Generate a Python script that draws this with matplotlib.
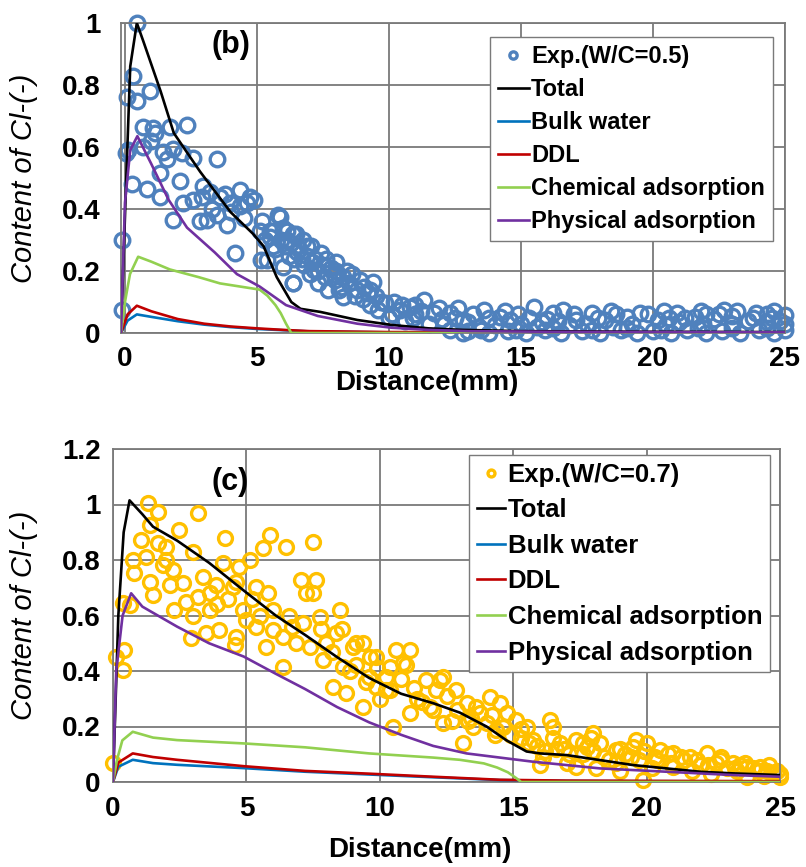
import numpy as np
import matplotlib
matplotlib.use("Agg")
import matplotlib.pyplot as plt

plt.rcParams['font.family'] = ['Liberation Sans', 'DejaVu Sans']

# ---------------- panel (b), W/C = 0.5 ----------------
b_exp_x = [-0.1, -0.13, 0.04, 0.06, 0.25, 0.32, 0.44, 0.44, 0.69, 0.95, 1.07, 1.14, 1.7, 2.34,
           1.45, 1.83, 2.15, 2.59, 3.47, 1.58, 1.33, 2.08, 0.82, 2.97, 3.22, 3.6, 4.36, 4.73,
           1.33, 2.21, 2.59, 3.98, 4.36, 4.61, 1.83, 2.84, 3.09, 3.85, 4.17, 0.1, 1.0, 0.7,
           3.3, 3.5, 4.0, 4.5, 4.9, 3.8, 2.9,
           5.11, 5.49, 5.87, 6.12, 6.37, 5.62, 6.12, 5.37, 6.0, 6.37, 5.81, 5.14, 6.08, 6.49,
           6.76, 7.03, 7.43, 7.16, 7.56, 7.97, 8.24, 8.5, 8.78, 9.05, 9.39, 6.35, 7.7, 8.24,
           9.6, 9.86, 6.6, 6.9, 7.2, 7.5, 7.8, 8.0, 6.4, 6.8, 7.3, 8.6, 8.9, 9.2, 9.5, 8.1,
           7.0, 5.6, 5.3, 6.2,
           5.2, 5.5, 5.7, 5.9, 6.0, 6.3, 6.5, 6.7, 6.9, 7.1, 7.3, 7.6, 7.9, 8.2, 8.4, 8.7, 9.0,
           9.3, 9.7, 8.0,
           10.4, 10.8, 11.34, 11.7, 12.3, 12.8, 13.4, 13.6, 14.2, 14.6, 12.8, 15.5, 16.2, 16.6,
           17.1, 17.7, 18.2, 19.0, 19.5, 20.2, 20.9, 21.6, 22.7, 23.9, 25.0,
           12.3, 13.0, 13.8, 14.5, 15.2, 15.9, 16.5, 17.3, 18.0, 18.8, 19.4, 20.0, 20.7, 21.3,
           22.0, 22.6, 23.3, 24.0, 24.6, 25.0,
           10.0, 10.6, 11.0, 11.5, 12.0, 13.0, 14.0, 15.0, 15.8, 16.8, 17.5, 18.5, 19.2, 20.5,
           21.0, 21.9, 22.3, 23.0, 23.6, 24.3, 24.8, 9.3, 10.2, 11.0, 12.6, 14.9, 16.0, 18.6,
           20.6, 22.0, 23.0, 24.3, 24.6,
           10.1, 10.5, 10.9, 11.2, 11.9, 12.1, 12.5, 13.2, 13.8, 14.4, 15.3, 15.6, 16.4, 17.0,
           17.9, 18.4, 19.8, 20.4, 21.2, 21.8, 22.5, 23.2, 23.8, 24.5, 25.0, 13.5, 14.8, 16.2,
           17.7, 19.0, 20.3, 21.7, 23.0, 24.3]
b_exp_y = [0.074, 0.30, 0.58, 0.76, 0.48, 0.83, 1.0, 0.75, 0.665, 0.78, 0.66, 0.645, 0.665, 0.67,
           0.585, 0.595, 0.58, 0.565, 0.56, 0.56, 0.515, 0.49, 0.465, 0.475, 0.455, 0.44, 0.46, 0.44,
           0.44, 0.42, 0.43, 0.42, 0.41, 0.42, 0.365, 0.36, 0.365, 0.35, 0.257, 0.59, 0.62, 0.60,
           0.40, 0.38, 0.39, 0.37, 0.43, 0.45, 0.44,
           0.33, 0.33, 0.375, 0.33, 0.32, 0.28, 0.30, 0.235, 0.214, 0.16, 0.38, 0.235, 0.28, 0.32,
           0.30, 0.28, 0.257, 0.203, 0.18, 0.17, 0.18, 0.16, 0.14, 0.15, 0.165, 0.16, 0.14, 0.117,
           0.074, 0.096, 0.27, 0.25, 0.24, 0.22, 0.21, 0.20, 0.24, 0.22, 0.16, 0.19, 0.17, 0.13, 0.12, 0.14,
           0.19, 0.33, 0.30, 0.25,
           0.36, 0.31, 0.27, 0.30, 0.34, 0.29, 0.26, 0.24, 0.28, 0.23, 0.20, 0.24, 0.19, 0.15, 0.20,
           0.12, 0.11, 0.14, 0.10, 0.23,
           0.074, 0.085, 0.106, 0.063, 0.063, 0.042, 0.02, 0.074, 0.053, 0.042, 0.0, 0.085, 0.063, 0.074,
           0.042, 0.063, 0.042, 0.053, 0.063, 0.042, 0.063, 0.053, 0.074, 0.063, 0.058,
           0.01, 0.005, 0.0, 0.005, 0.0, 0.01, 0.0, 0.005, 0.0, 0.01, 0.0, 0.005, 0.0, 0.01,
           0.0, 0.005, 0.0, 0.01, 0.0, 0.01,
           0.05, 0.04, 0.06, 0.03, 0.045, 0.035, 0.025, 0.03, 0.035, 0.025, 0.03, 0.02, 0.03, 0.025,
           0.035, 0.03, 0.045, 0.03, 0.04, 0.035, 0.04, 0.09, 0.10, 0.09, 0.08, 0.06, 0.045, 0.06,
           0.05, 0.06, 0.055, 0.06, 0.07,
           0.06, 0.09, 0.05, 0.07, 0.08, 0.03, 0.05, 0.06, 0.05, 0.07, 0.05, 0.02, 0.04, 0.06,
           0.05, 0.07, 0.06, 0.07, 0.05, 0.07, 0.06, 0.07, 0.05, 0.05, 0.03, 0.01, 0.01, 0.015,
           0.01, 0.015, 0.01, 0.015, 0.015, 0.015]

b_total_x = [-0.15, 0.05, 0.2, 0.45, 0.7, 1.35, 1.85, 2.85, 4.0, 4.85, 5.25, 5.75, 6.3, 6.65, 7.4,
             8.8, 10.1, 11.5, 12.8, 15, 20, 25]
b_total_y = [0, 0.5, 0.86, 1.0, 0.94, 0.78, 0.645, 0.52, 0.39, 0.32, 0.28, 0.18, 0.1, 0.078, 0.068,
             0.042, 0.026, 0.015, 0.01, 0.006, 0.004, 0.003]
b_bulk_x = [-0.15, 0.1, 0.45, 1.0, 2.0, 3.0, 4.0, 5.0, 6.0, 7.0, 10, 25]
b_bulk_y = [0, 0.04, 0.06, 0.052, 0.038, 0.027, 0.019, 0.013, 0.009, 0.005, 0.002, 0.001]
b_ddl_x = [-0.15, 0.1, 0.45, 1.0, 2.0, 3.0, 4.0, 5.0, 6.0, 7.0, 10, 25]
b_ddl_y = [0, 0.06, 0.088, 0.07, 0.045, 0.03, 0.021, 0.015, 0.01, 0.006, 0.003, 0.001]
b_chem_x = [-0.15, 0.0, 0.19, 0.5, 1.0, 1.7, 2.8, 3.6, 4.5, 5.1, 5.4, 5.7, 5.9, 6.1, 6.3, 25]
b_chem_y = [0, 0.1, 0.19, 0.246, 0.23, 0.205, 0.18, 0.16, 0.148, 0.14, 0.12, 0.09, 0.064, 0.03, 0.0, 0.0]
b_phys_x = [-0.15, 0.0, 0.2, 0.47, 1.0, 1.65, 2.35, 3.4, 4.24, 5.1, 6.1, 7.3, 8.8, 10.1, 11.5, 13,
            16, 20, 25]
b_phys_y = [0, 0.42, 0.59, 0.635, 0.545, 0.43, 0.34, 0.26, 0.19, 0.15, 0.09, 0.055, 0.03, 0.017,
            0.01, 0.006, 0.004, 0.003, 0.002]

# ---------------- panel (c), W/C = 0.7 ----------------
c_exp_x = [0.0, 0.12, 0.43, 0.36, 0.36, 0.62, 0.74, 0.8, 1.05, 1.24, 1.3, 1.37, 1.37, 1.49, 1.68,
           1.68, 1.86, 1.99, 2.12, 2.24, 2.49, 2.62, 2.74, 2.93, 2.99, 3.18, 3.18, 3.37, 3.49,
           3.62, 3.62, 3.87, 3.99, 4.12, 4.18, 4.49, 4.56, 4.62, 4.74, 4.87, 5.0, 5.12, 5.37,
           5.37, 5.62, 5.74, 5.8, 5.87, 5.99, 6.37, 6.37, 6.5, 6.87, 7.06, 7.12, 7.25, 7.37,
           7.49, 7.5, 7.62, 7.74, 7.87, 8.24, 8.37, 8.49, 8.62, 8.75, 8.99, 9.12, 9.37, 9.37,
           9.62, 9.87, 9.87, 10.25, 10.25, 10.37, 10.5, 10.62, 10.87, 11.12, 11.12, 11.75,
           12.12, 12.25, 12.37, 12.37, 12.87, 13.12, 13.25, 13.5, 13.75, 14.0, 14.12, 14.37,
           14.5, 14.75, 15.12, 15.5, 15.75, 16.37, 16.5, 16.75, 17.37, 17.37, 17.75, 18.0,
           18.25, 18.87, 18.87, 19.5, 19.87, 20.0, 20.5, 21.0, 21.0, 21.63, 22.25, 22.75,
           23.25, 23.75, 23.75, 24.25, 24.75, 25.0,
           2.0, 2.3, 3.0, 4.3, 5.2, 6.0, 6.7, 8.0, 8.9, 9.6, 10.0, 11.4, 11.9, 12.7, 13.4, 14.3,
           15.3, 15.9, 16.2, 16.9, 17.6, 18.4, 19.2, 19.7, 20.3, 20.9, 21.4, 22.0, 22.6, 23.0,
           23.5, 24.0, 24.5, 24.9, 16.0, 17.0, 18.1, 19.0, 20.2, 21.7, 22.4, 23.4, 24.4,
           8.2, 8.6, 9.1, 9.5, 9.9, 10.4, 10.8, 11.3, 11.6, 12.0, 12.5, 12.9, 13.3, 13.6, 14.2,
           14.6, 14.9, 15.3, 15.6, 11.0, 7.8, 6.6, 5.5, 4.6, 3.9,
           16.1, 16.6, 17.1, 17.6, 18.0, 18.6, 19.0, 19.4, 19.9, 20.4, 20.8, 21.3, 21.9, 22.3,
           22.8, 23.3, 23.7, 24.2, 24.6, 25.0, 16.5, 17.9, 19.6]
c_exp_y = [0.07, 0.452, 0.476, 0.404, 0.644, 0.638, 0.80, 0.752, 0.872, 0.812, 1.004, 0.926, 0.722,
           0.674, 0.974, 0.86, 0.782, 0.848, 0.71, 0.764, 0.908, 0.716, 0.65, 0.518, 0.83, 0.968,
           0.668, 0.74, 0.536, 0.68, 0.62, 0.71, 0.548, 0.788, 0.878, 0.704, 0.494, 0.524, 0.776,
           0.62, 0.584, 0.80, 0.704, 0.56, 0.842, 0.488, 0.68, 0.89, 0.548, 0.524, 0.415, 0.848,
           0.50, 0.728, 0.572, 0.68, 0.488, 0.866, 0.68, 0.728, 0.596, 0.44, 0.343, 0.536, 0.62,
           0.415, 0.32, 0.488, 0.50, 0.50, 0.271, 0.452, 0.452, 0.343, 0.38, 0.332, 0.415, 0.20,
           0.476, 0.428, 0.476, 0.248, 0.368, 0.332, 0.368, 0.38, 0.212, 0.332, 0.139, 0.284,
           0.20, 0.248, 0.212, 0.307, 0.187, 0.284, 0.248, 0.223, 0.20, 0.151, 0.223, 0.20, 0.139,
           0.151, 0.055, 0.127, 0.175, 0.139, 0.115, 0.067, 0.127, 0.007, 0.139, 0.115, 0.103,
           0.055, 0.091, 0.103, 0.079, 0.067, 0.055, 0.019, 0.055, 0.031, 0.019,
           0.80, 0.62, 0.60, 0.66, 0.66, 0.62, 0.56, 0.50, 0.40, 0.38, 0.30, 0.30, 0.27, 0.22,
           0.23, 0.17, 0.16, 0.13, 0.11, 0.12, 0.10, 0.09, 0.10, 0.08, 0.09, 0.07, 0.08, 0.06,
           0.07, 0.05, 0.06, 0.05, 0.04, 0.04, 0.06, 0.07, 0.05, 0.04, 0.05, 0.04, 0.03, 0.04, 0.02,
           0.47, 0.55, 0.42, 0.36, 0.41, 0.33, 0.37, 0.34, 0.29, 0.26, 0.31, 0.26, 0.22, 0.27, 0.24,
           0.20, 0.17, 0.19, 0.14, 0.42, 0.55, 0.60, 0.60, 0.72, 0.64,
           0.09, 0.12, 0.10, 0.14, 0.11, 0.08, 0.12, 0.09, 0.11, 0.08, 0.10, 0.09, 0.08, 0.06,
           0.09, 0.05, 0.07, 0.04, 0.06, 0.03, 0.16, 0.16, 0.15]

c_total_x = [0, 0.2, 0.4, 0.62, 1.1, 1.5, 2.4, 3.6, 4.9, 6.1, 7.2, 8.4, 9.6, 10.8, 12.0, 13.0, 14.0,
             14.75, 15.5, 16.0, 17.0, 18.25, 19.5, 20.75, 22.0, 23.25, 25]
c_total_y = [0, 0.6, 0.9, 1.015, 0.965, 0.92, 0.87, 0.79, 0.69, 0.6, 0.53, 0.45, 0.375, 0.318,
             0.284, 0.25, 0.2, 0.15, 0.11, 0.103, 0.097, 0.079, 0.061, 0.049, 0.037, 0.031, 0.025]
c_bulk_x = [0, 0.2, 0.74, 1.5, 2.4, 4.9, 7.2, 9.6, 12.0, 14.5, 17, 20, 25]
c_bulk_y = [0, 0.055, 0.08, 0.068, 0.062, 0.05, 0.037, 0.027, 0.017, 0.007, 0.004, 0.003, 0.002]
c_ddl_x = [0, 0.2, 0.74, 1.5, 2.4, 4.9, 7.2, 9.6, 12.0, 14.5, 17, 20, 25]
c_ddl_y = [0, 0.07, 0.103, 0.09, 0.08, 0.057, 0.04, 0.03, 0.019, 0.008, 0.005, 0.004, 0.003]
c_chem_x = [0, 0.15, 0.35, 0.74, 1.5, 2.4, 4.9, 7.2, 9.6, 12.0, 13.0, 13.9, 14.4, 14.8, 15.1, 15.3, 25]
c_chem_y = [0, 0.08, 0.15, 0.181, 0.16, 0.151, 0.139, 0.125, 0.103, 0.088, 0.08, 0.067, 0.052,
            0.035, 0.015, 0.0, 0.0]
c_phys_x = [0, 0.12, 0.36, 0.68, 1.1, 2.4, 3.6, 4.9, 6.1, 7.2, 8.4, 9.6, 10.8, 12.0, 13.25, 14.75,
            15.75, 17.0, 18.25, 19.5, 20.75, 23.25, 25]
c_phys_y = [0, 0.4, 0.6, 0.68, 0.632, 0.56, 0.5, 0.452, 0.39, 0.335, 0.27, 0.215, 0.17, 0.13, 0.103,
            0.085, 0.073, 0.061, 0.049, 0.043, 0.037, 0.025, 0.019]

line_colors = {'Total': 'black', 'Bulk water': '#0072bd', 'DDL': '#c00000',
               'Chemical adsorption': '#92d050', 'Physical adsorption': '#7030a0'}
grid_col = '#7a7a7a'


def draw_panel(ax, exp, curves, exp_color, exp_label, ylim, yticks, ms):
    ax.plot(exp[0], exp[1], 'o', mfc='none', mec=exp_color, ms=ms, mew=2.4,
            clip_on=False, label=exp_label, zorder=2)
    for name, (xs, ys) in curves.items():
        ax.plot(xs, ys, color=line_colors[name], lw=1.9, label=name, zorder=3)
    ax.set_ylim(*ylim)
    ax.set_yticks(yticks)
    ax.set_yticklabels([f'{t:g}' for t in yticks])
    ax.set_xticks([0, 5, 10, 15, 20, 25])
    ax.grid(True, color=grid_col, lw=1.3)
    ax.set_axisbelow(True)
    for s in ax.spines.values():
        s.set_color(grid_col)
        s.set_linewidth(1.3)
    for lab in ax.get_xticklabels() + ax.get_yticklabels():
        lab.set_fontweight('bold')
    ax.set_xlabel('Distance(mm)', fontsize=20, fontweight='bold')
    ax.set_ylabel('Content of Cl-(-)', fontsize=21, style='italic')


fig = plt.figure(figsize=(8.06, 8.67), dpi=100)

axb = fig.add_axes([121 / 806, 1 - 333 / 867, 664 / 806, 310 / 867])
draw_panel(axb, (b_exp_x, b_exp_y),
           {'Total': (b_total_x, b_total_y), 'Bulk water': (b_bulk_x, b_bulk_y),
            'DDL': (b_ddl_x, b_ddl_y), 'Chemical adsorption': (b_chem_x, b_chem_y),
            'Physical adsorption': (b_phys_x, b_phys_y)},
           '#4f81bd', 'Exp.(W/C=0.5)', (0, 1), [0, 0.2, 0.4, 0.6, 0.8, 1], 10.5)
axb.set_xlim(-0.15, 25)
axb.tick_params(length=0, labelsize=20)
axb.tick_params(axis='y', pad=15)
axb.tick_params(axis='x', pad=9)
axb.text(0.165, 0.93, '(b)', transform=axb.transAxes, fontsize=22, fontweight='bold',
         ha='center', va='center')
axb.yaxis.set_label_coords(-0.125, 0.5)
axb.xaxis.set_label_coords(0.46, -0.12)
axb.legend(loc='upper right', bbox_to_anchor=(0.982, 0.955),
           prop={'weight': 'bold', 'size': 17}, handlelength=1.3, handletextpad=0.1,
           labelspacing=0.42, borderpad=0.35, borderaxespad=0, fancybox=False,
           framealpha=1, edgecolor=grid_col, markerscale=0.5)

axc = fig.add_axes([113 / 806, 1 - 782 / 867, 667 / 806, 333 / 867])
draw_panel(axc, (c_exp_x, c_exp_y),
           {'Total': (c_total_x, c_total_y), 'Bulk water': (c_bulk_x, c_bulk_y),
            'DDL': (c_ddl_x, c_ddl_y), 'Chemical adsorption': (c_chem_x, c_chem_y),
            'Physical adsorption': (c_phys_x, c_phys_y)},
           '#ffc000', 'Exp.(W/C=0.7)', (0, 1.2), [0, 0.2, 0.4, 0.6, 0.8, 1, 1.2], 10)
axc.set_xlim(0, 25)
axc.tick_params(length=0, labelsize=20)
axc.tick_params(axis='y', pad=9)
axc.tick_params(axis='x', pad=10)
axc.text(0.175, 0.90, '(c)', transform=axc.transAxes, fontsize=22, fontweight='bold',
         ha='center', va='center')
axc.yaxis.set_label_coords(-0.112, 0.5)
axc.xaxis.set_label_coords(0.46, -0.165)
axc.legend(loc='upper right', bbox_to_anchor=(0.985, 0.982),
           prop={'weight': 'bold', 'size': 18.5}, handlelength=1.1, handletextpad=0.1,
           labelspacing=0.45, borderpad=0.3, borderaxespad=0, fancybox=False,
           framealpha=1, edgecolor=grid_col, markerscale=0.5)

fig.savefig('out.png', dpi=100)
